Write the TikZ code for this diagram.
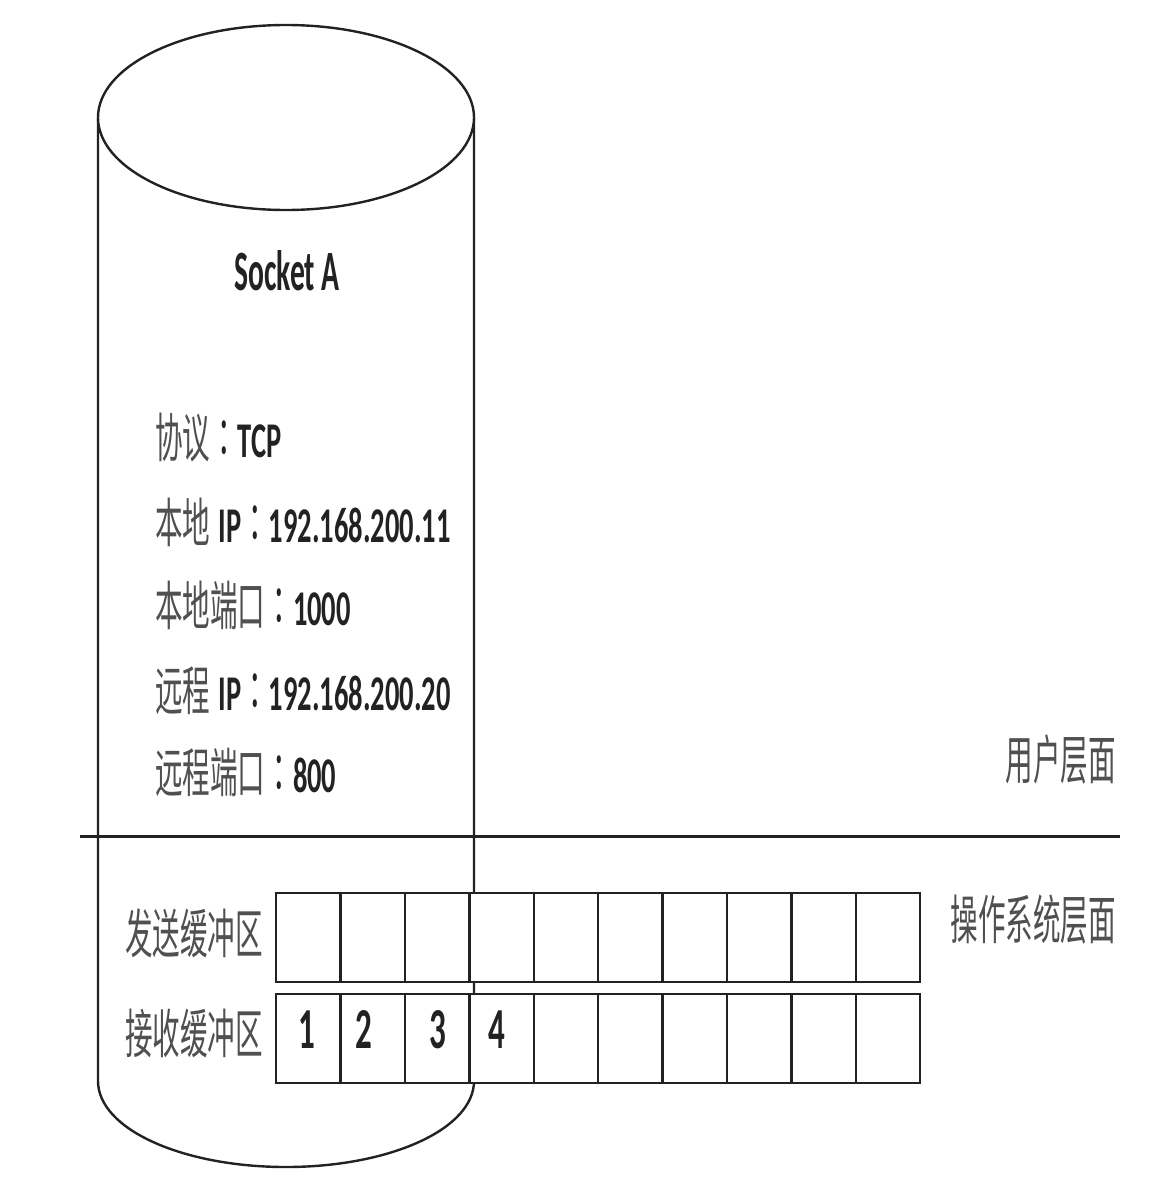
\documentclass[tikz,border=0pt]{standalone}
\usepackage{fontspec}
\setmainfont{Carlito}[FakeStretch=0.57]
\newfontfamily\cjk{Noto Sans CJK SC}[FakeStretch=0.52]
\newfontfamily\cjktc{Noto Sans CJK TC}[FakeStretch=0.52]
\newfontfamily\titlefont{Carlito}[FakeStretch=0.52]
\definecolor{zhgray}{HTML}{505050}
\definecolor{ink}{HTML}{222222}
\newcommand\zh[1]{{\cjk\mdseries\color{zhgray}\fontsize{53}{60}\selectfont #1}}
\newcommand\zhcolon{{\cjktc\mdseries\color{ink}\fontsize{53}{60}\selectfont ：}}
\begin{document}
\begin{tikzpicture}[x=1pt,y=-1pt,
  outline/.style={draw=ink, line width=2.4pt},
  layerline/.style={draw=ink, line width=3pt},
  cell/.style={draw=ink, line width=2.3pt, fill=white, minimum width=64.4pt, minimum height=89pt, inner sep=0pt, anchor=north west},
  txt/.style={inner sep=0pt, text=ink, font=\fontsize{50}{60}\selectfont},
  data/.style={txt, anchor=base west, font=\fontsize{50}{60}\selectfont\bfseries},
  num/.style={inner sep=0pt, text=ink, font=\fontsize{58}{60}\selectfont\bfseries, anchor=base},
]
\useasboundingbox[fill=white] (0,0) rectangle (1155,1186);

% cylinder (Socket A)
\coordinate (cylTL) at (98,117.5);
\coordinate (cylTR) at (474,117.5);
\coordinate (cylBL) at (98,1081);
\coordinate (cylBR) at (474,1081);
\coordinate (cylBot) at (286,1167);
\draw[outline] (cylTL) -- (cylBL)
  .. controls (98,1129) and (182.2,1167) .. (cylBot)
  .. controls (389.8,1167) and (474,1129) .. (cylBR) -- (cylTR);
\draw[outline, fill=white] (286,117.5) ellipse [x radius=188pt, y radius=92.5pt];

% layer separator
\coordinate (hl) at (80,836);
\coordinate (hr) at (1120,836);
\draw[layerline] (hl) -- (hr);

% buffers
\foreach \i in {0,...,9} {
  \node[cell] (s\i) at ({275+64.4*\i},892) {};
  \node[cell] (r\i) at ({275+64.4*\i},993) {};
}
\node[num] (n1) at (307,1048) {1};
\node[num] (n2) at (364,1048) {2};
\node[num] (n3) at (438,1048) {3};
\node[num] (n4) at (497,1048) {4};

% socket texts
\node[txt, anchor=base] (title) at (287,290) {\titlefont\fontsize{57}{60}\selectfont\bfseries Socket A};
\node[data] (proto) at (155,457) {\zh{协议}\zhcolon TCP};
\node[data] (lip) at (155,542) {\zh{本地}\,IP\zhcolon 192.168.200.11};
\node[data] (lport) at (155,625) {\zh{本地端口}\zhcolon 1000};
\node[data] (rip) at (155,710) {\zh{远程}\,IP\zhcolon 192.168.200.20};
\node[data] (rport) at (155,792) {\zh{远程端口}\zhcolon 800};

% layer labels
\node[txt, anchor=base east] (user) at (1116,779) {\zh{用户层面}};
\node[txt, anchor=base east] (os) at (1116,939) {\zh{操作系统层面}};
\node[txt, anchor=base east] (send) at (263,953) {\zh{发送缓冲区}};
\node[txt, anchor=base east] (recv) at (263,1053) {\zh{接收缓冲区}};
\end{tikzpicture}
\end{document}
